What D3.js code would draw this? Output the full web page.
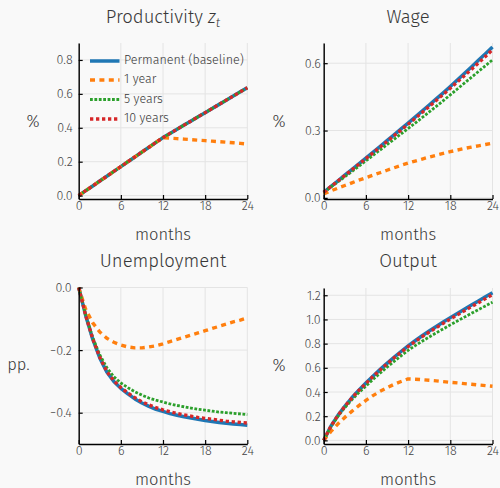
<!DOCTYPE html>
<html><head><meta charset="utf-8">
<script src="https://cdn.jsdelivr.net/npm/d3@7"></script>
<style>
html,body{margin:0;padding:0;background:#f9f9f9;}
svg{display:block;font-family:"Fira Sans","Open Sans","Noto Sans",sans-serif;font-weight:300;}
</style></head>
<body><svg id="c" width="500" height="488"></svg>
<script>
const months = d3.range(0, 25);
const xTicks = [0, 6, 12, 18, 24];
const seriesNames = ["Permanent (baseline)", "1 year", "5 years", "10 years"];
const seriesColors = ["#1f77b4", "#ff7f0e", "#2ca02c", "#d62728"];

// Productivity z_t
const prodPerm = [0,0.029,0.057,0.086,0.114,0.143,0.171,0.200,0.228,0.257,0.285,0.314,0.342,0.367,0.391,0.416,0.440,0.465,0.489,0.514,0.538,0.563,0.587,0.612,0.636];
const prod1y   = [0,0.029,0.057,0.086,0.114,0.143,0.171,0.200,0.228,0.257,0.285,0.314,0.342,0.339,0.336,0.333,0.330,0.327,0.324,0.321,0.318,0.315,0.312,0.308,0.304];
const prod5y   = [0,0.029,0.057,0.086,0.114,0.143,0.171,0.200,0.228,0.257,0.285,0.314,0.342,0.367,0.391,0.416,0.440,0.465,0.489,0.514,0.538,0.563,0.587,0.612,0.636];
const prod10y  = [0,0.029,0.057,0.086,0.114,0.143,0.171,0.200,0.228,0.257,0.285,0.314,0.342,0.367,0.391,0.416,0.440,0.465,0.489,0.514,0.538,0.563,0.587,0.612,0.636];

// Wage
const wagePerm = [0.025,0.050,0.075,0.101,0.126,0.151,0.177,0.203,0.229,0.255,0.281,0.307,0.333,0.360,0.387,0.414,0.441,0.468,0.496,0.525,0.554,0.583,0.613,0.642,0.672];
const wage1y   = [0.018,0.031,0.043,0.055,0.067,0.079,0.090,0.101,0.112,0.123,0.134,0.145,0.155,0.164,0.173,0.182,0.190,0.198,0.206,0.213,0.220,0.226,0.232,0.238,0.244];
const wage5y   = [0.025,0.048,0.071,0.094,0.117,0.141,0.165,0.189,0.213,0.237,0.261,0.285,0.309,0.333,0.358,0.383,0.408,0.433,0.459,0.485,0.511,0.537,0.563,0.589,0.615];
const wage10y  = [0.025,0.050,0.075,0.100,0.125,0.150,0.175,0.200,0.226,0.251,0.277,0.302,0.328,0.354,0.380,0.407,0.434,0.461,0.488,0.516,0.544,0.572,0.601,0.630,0.660];

// Unemployment (pp.)
const unPerm = [0,-0.090,-0.165,-0.225,-0.270,-0.300,-0.322,-0.340,-0.356,-0.369,-0.380,-0.389,-0.396,-0.403,-0.408,-0.413,-0.417,-0.421,-0.425,-0.428,-0.431,-0.434,-0.436,-0.438,-0.440];
const un1y   = [0,-0.070,-0.113,-0.142,-0.162,-0.175,-0.184,-0.190,-0.193,-0.193,-0.190,-0.186,-0.180,-0.173,-0.166,-0.159,-0.152,-0.145,-0.138,-0.131,-0.124,-0.117,-0.110,-0.104,-0.097];
const un5y   = [0,-0.088,-0.160,-0.215,-0.256,-0.285,-0.305,-0.320,-0.333,-0.344,-0.353,-0.360,-0.366,-0.372,-0.377,-0.381,-0.385,-0.389,-0.392,-0.395,-0.398,-0.400,-0.402,-0.404,-0.406];
const un10y  = [0,-0.090,-0.164,-0.223,-0.268,-0.298,-0.320,-0.337,-0.352,-0.365,-0.375,-0.384,-0.391,-0.397,-0.402,-0.407,-0.411,-0.415,-0.418,-0.421,-0.424,-0.427,-0.429,-0.431,-0.433];

// Output
const outPerm = [0,0.115,0.205,0.282,0.352,0.415,0.474,0.531,0.585,0.637,0.687,0.735,0.781,0.824,0.865,0.904,0.942,0.979,1.015,1.050,1.085,1.119,1.153,1.187,1.220];
const out1y   = [0,0.072,0.135,0.190,0.240,0.287,0.330,0.370,0.405,0.435,0.463,0.487,0.508,0.506,0.502,0.497,0.492,0.486,0.480,0.475,0.469,0.464,0.458,0.453,0.447];
const out5y   = [0,0.110,0.196,0.270,0.336,0.395,0.449,0.503,0.555,0.605,0.653,0.699,0.744,0.783,0.820,0.855,0.889,0.922,0.955,0.987,1.019,1.050,1.081,1.112,1.142];
const out10y  = [0,0.115,0.204,0.281,0.350,0.413,0.471,0.528,0.581,0.632,0.682,0.729,0.775,0.817,0.857,0.895,0.932,0.968,1.003,1.037,1.071,1.105,1.138,1.172,1.205];

const prodTicks = [0, 0.2, 0.4, 0.6, 0.8];
const wageTicks = [0, 0.3, 0.6];
const unTicks = [0, -0.2, -0.4];
const outTicks = [0, 0.2, 0.4, 0.6, 0.8, 1.0, 1.2];

// ---------- layout / styles ----------
const styles = [
  {w: 3.5, dash: null},
  {w: 3.4, dash: "5,4.4"},
  {w: 2.8, dash: "2.8,1.6"},
  {w: 3.3, dash: "3.3,2.7"}
];
const panels = [
  {title: "prod", ylabel: "%", series: [prodPerm, prod1y, prod5y, prod10y], ticks: prodTicks, dom: [-0.02, 0.9],
   x0: 78.7, x1: 247.3, y0: 199, y1: 43, tx: 163, ty: 22.5, lx: 33, ly: 122.5, pad: 6, legend: true},
  {title: "Wage", ylabel: "%", series: [wagePerm, wage1y, wage5y, wage10y], ticks: wageTicks, dom: [-0.005, 0.69],
   x0: 323.7, x1: 492.5, y0: 199, y1: 43, tx: 408, ty: 22.5, lx: 279, ly: 122.5, pad: 3},
  {title: "Unemployment", ylabel: "pp.", series: [unPerm, un1y, un5y, un10y], ticks: unTicks, dom: [-0.5, 0.0],
   x0: 78.7, x1: 247.3, y0: 444, y1: 287.5, tx: 163, ty: 266.5, lx: 18.5, ly: 366, pad: 7},
  {title: "Output", ylabel: "%", series: [outPerm, out1y, out5y, out10y], ticks: outTicks, dom: [-0.03, 1.26],
   x0: 323.7, x1: 492.5, y0: 444, y1: 288, tx: 408, ty: 266.5, lx: 279, ly: 367, pad: 3}
];

const svg = d3.select("#c");
const fmt = v => (v < 0 ? "\u2212" : "") + Math.abs(v).toFixed(1);
const txt = "#383838";

panels.forEach(p => {
  const x = d3.scaleLinear().domain([0, 24]).range([p.x0, p.x1]);
  const y = d3.scaleLinear().domain(p.dom).range([p.y0, p.y1]);
  const g = svg.append("g");

  // grid
  const grid = g.append("g").attr("stroke", "#e4e4e4").attr("stroke-width", 1);
  xTicks.forEach(t => grid.append("line").attr("x1", x(t)).attr("x2", x(t)).attr("y1", p.y0).attr("y2", p.y1));
  p.ticks.forEach(t => grid.append("line").attr("x1", p.x0).attr("x2", p.x1).attr("y1", y(t)).attr("y2", y(t)));

  // lines
  const line = d3.line().x((d, i) => x(months[i])).y(d => y(d));
  p.series.forEach((s, i) => {
    g.append("path").datum(s).attr("d", line).attr("fill", "none")
      .attr("stroke", seriesColors[i]).attr("stroke-width", styles[i].w)
      .attr("stroke-dasharray", styles[i].dash).attr("stroke-linecap", "butt").attr("stroke-linejoin", "round");
  });

  // axes
  const ax = g.append("g").attr("transform", `translate(0,${p.y0})`)
    .call(d3.axisBottom(x).tickValues(xTicks).tickSizeInner(-4).tickSizeOuter(0).tickPadding(2).tickFormat(d3.format("d")));
  const ay = g.append("g").attr("transform", `translate(${p.x0},0)`)
    .call(d3.axisLeft(y).tickValues(p.ticks).tickSizeInner(-4).tickSizeOuter(0).tickPadding(p.pad).tickFormat(fmt));
  [ax, ay].forEach(a => {
    a.select(".domain").attr("stroke", "#000").attr("stroke-width", 1.4);
    a.selectAll(".tick line").attr("stroke", "#000").attr("stroke-width", 1.2);
    a.selectAll(".tick text").attr("fill", "#444").attr("font-size", 12.5)
      .attr("font-family", '"Fira Sans","Open Sans",sans-serif').attr("font-weight", 300);
  });

  // title
  const t = svg.append("text").attr("x", p.tx).attr("y", p.ty).attr("text-anchor", "middle")
    .attr("font-size", 18.5).attr("fill", txt);
  if (p.title === "prod") {
    t.append("tspan").text("Productivity ");
    t.append("tspan").attr("font-style", "italic").text("z");
    t.append("tspan").attr("font-style", "italic").attr("font-size", 13).attr("dy", 4).text("t");
  } else t.text(p.title);

  // axis labels
  svg.append("text").attr("x", (p.x0 + p.x1) / 2).attr("y", p.y0 + 40.5).attr("text-anchor", "middle")
    .attr("font-size", 16.5).attr("fill", txt).text("months");
  svg.append("text").attr("x", p.lx).attr("y", p.ly).attr("text-anchor", "middle").attr("dominant-baseline", "middle")
    .attr("font-size", 16.5).attr("fill", txt).text(p.ylabel);

  // legend
  if (p.legend) {
    const ys = [61, 80, 99.5, 119];
    seriesNames.forEach((n, i) => {
      svg.append("line").attr("x1", 90).attr("x2", 119.5).attr("y1", ys[i]).attr("y2", ys[i])
        .attr("stroke", seriesColors[i]).attr("stroke-width", styles[i].w).attr("stroke-dasharray", styles[i].dash);
      svg.append("text").attr("x", 124).attr("y", ys[i]).attr("dominant-baseline", "middle")
        .attr("font-size", 12.5).attr("fill", txt).text(n);
    });
  }
});
</script></body></html>
